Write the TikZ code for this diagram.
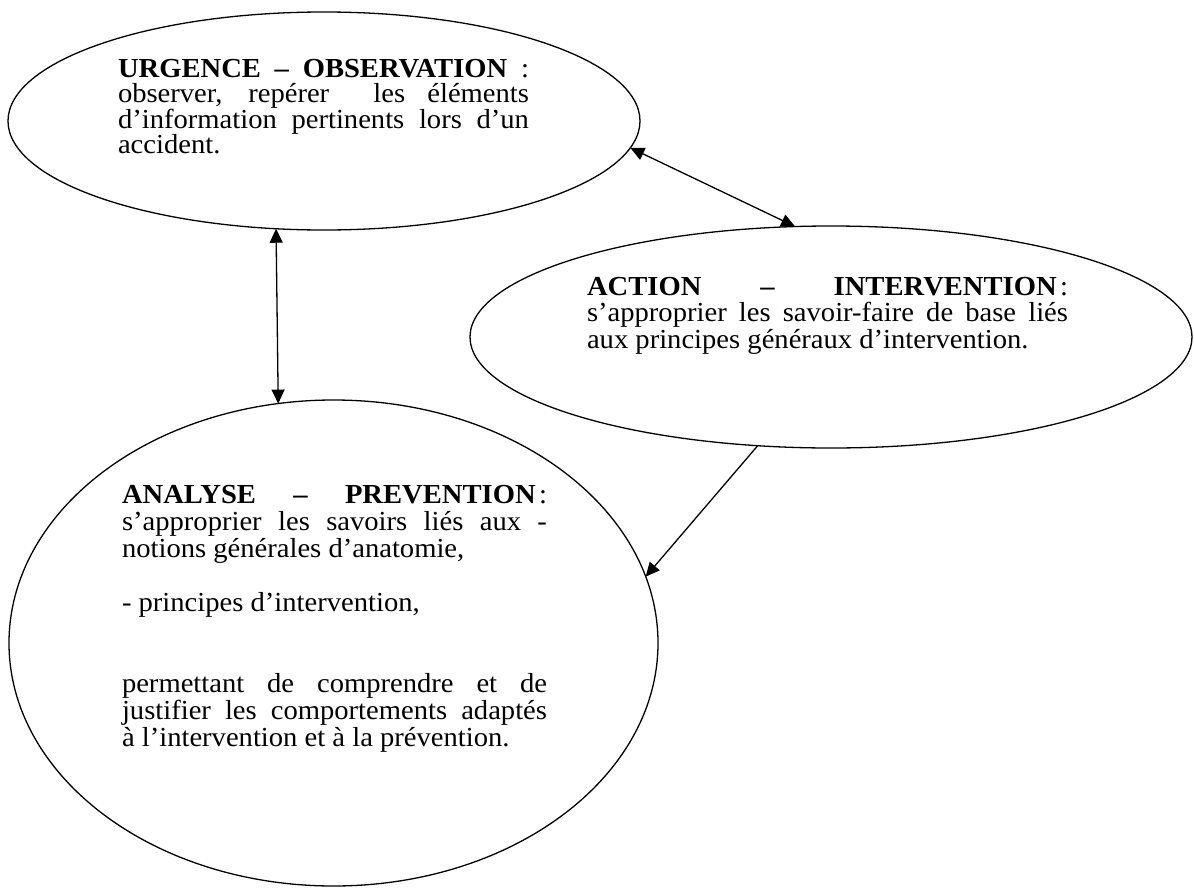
\documentclass[tikz,border=0pt]{standalone}
\usepackage{fontspec}
\setmainfont{Liberation Serif}[FakeStretch=1.04]
\usetikzlibrary{shapes.geometric,arrows.meta}
\begin{document}
\begin{tikzpicture}[x=1pt,y=-1pt,
  bubble/.style={draw,ellipse,line width=1.3pt,inner sep=0pt,outer sep=0pt},
  txt/.style={anchor=base west,inner sep=0pt,outer sep=0pt,align=justify},
  both/.style={line width=1.3pt,{Triangle[length=14pt,width=13pt]}-{Triangle[length=14pt,width=13pt]}},
  one/.style={line width=1.3pt,-{Triangle[length=14pt,width=13pt]}}]
\useasboundingbox (0,0) rectangle (1194,889);
% ellipses
\node[bubble,minimum width=632pt,minimum height=218pt] (e1) at (324,121) {};
\node[bubble,minimum width=722pt,minimum height=222pt] (e2) at (831,337) {};
\node[bubble,minimum width=649pt,minimum height=486pt] (e3) at (333.5,643) {};
% texts
\node[txt,text width=411pt,font=\fontsize{27.5}{25}\selectfont] (t1) at (118,77)
  {\textbf{URGENCE – OBSERVATION} :\linebreak
   observer, repérer\ \ les éléments\linebreak
   d’information pertinents lors d’un\linebreak
   accident.};
\node[txt,text width=481pt,font=\fontsize{27.5}{26.5}\selectfont] (t2) at (587,295)
  {\textbf{ACTION – INTERVENTION}\hspace{0.12em}:\linebreak
   s’approprier les savoir-faire de base liés\linebreak
   aux principes généraux d’intervention.};
\node[txt,text width=425pt,font=\fontsize{27.5}{27}\selectfont] (t3) at (122,503)
  {\textbf{ANALYSE – PREVENTION}\hspace{0.12em}:\linebreak
   s’approprier les savoirs liés aux -\linebreak
   notions générales d’anatomie,\par\vspace{27pt}
   - principes d’intervention,\par\vspace{54pt}
   permettant de comprendre et de\linebreak
   justifier les comportements adaptés\linebreak
   à l’intervention et à la prévention.};
% connectors
\draw[both] (e1.-114.5) -- (e3.103.75);
\draw[both] (e1.-5.1) -- (e2.108.1);
\draw[one] (e2.-124.3) -- (e3.12.2);
\end{tikzpicture}
\end{document}
